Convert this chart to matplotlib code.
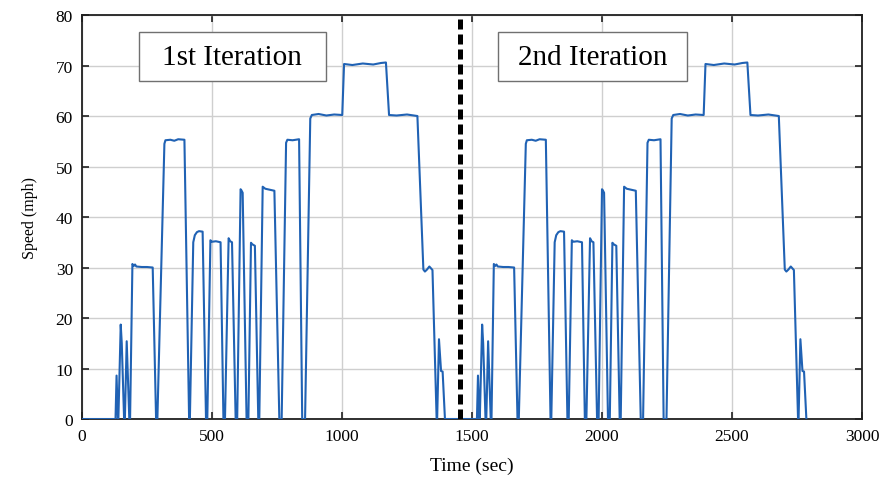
import matplotlib.pyplot as plt
from matplotlib.patches import Rectangle
import numpy as np

plt.rcParams['font.family'] = ['Liberation Serif', 'DejaVu Serif']

# one drive cycle (time in sec, speed in mph), idle at the start
cycle_t = [127, 129, 133, 138, 140, 149, 153, 162, 165, 172, 182, 185,
           194, 199, 204, 209, 230, 250, 272, 285, 290, 317, 321, 340,
           355, 370, 394, 412, 415, 428, 434, 442, 450, 464, 477, 482,
           494, 500, 515, 533, 544, 550, 564, 570, 577, 591, 597, 610,
           613, 618, 633, 640, 650, 655, 665, 678, 682, 695, 705, 740,
           759, 768, 785, 790, 810, 835, 847, 858, 878, 884, 910, 940,
           970, 1001, 1008, 1040, 1080, 1120, 1150, 1169, 1181, 1210,
           1250, 1290, 1313, 1319, 1327, 1336, 1348, 1364, 1366, 1373,
           1381, 1387, 1396]
cycle_v = [0, 0, 8.6, 0, 0, 18.7, 15.0, 0, 0, 15.4, 0, 0,
           30.7, 30.3, 30.6, 30.2, 30.1, 30.1, 30.0, 0, 0, 54.5, 55.2, 55.3,
           55.1, 55.4, 55.3, 0, 0, 35.0, 36.4, 37.0, 37.2, 37.1, 0, 0,
           35.4, 35.1, 35.2, 35.0, 0, 0, 35.8, 35.2, 35.0, 0, 0, 45.5,
           45.3, 44.8, 0, 0, 34.9, 34.6, 34.3, 0, 0, 46.0, 45.6, 45.2,
           0, 0, 54.7, 55.3, 55.2, 55.4, 0, 0, 59.5, 60.2, 60.4, 60.1,
           60.3, 60.2, 70.3, 70.1, 70.4, 70.2, 70.5, 70.6, 60.2, 60.1,
           60.3, 60.0, 29.6, 29.2, 29.6, 30.2, 29.5, 0, 0, 15.8,
           9.5, 9.4, 0]
repeat_shift = 1390      # second run of the same cycle
split_time = 1454        # boundary between the two runs

labels = ['1st Iteration', '2nd Iteration']
label_x = [(219, 938), (1600, 2327)]
label_y = (66.9, 76.6)

t = np.concatenate([[0], cycle_t, np.array(cycle_t) + repeat_shift])
v = np.concatenate([[0], cycle_v, cycle_v])

fig = plt.figure(figsize=(8.93, 4.81), dpi=100)
ax = fig.add_axes([0.0918, 0.1268, 0.8735, 0.8399])

ax.plot(t, v, color='#2062b4', lw=1.5, zorder=3)
ax.axvline(split_time, color='black', lw=3.6, dashes=(2.0, 1.0), zorder=4)

for lab, (x0, x1) in zip(labels, label_x):
    ax.add_patch(Rectangle((x0, label_y[0]), x1 - x0, label_y[1] - label_y[0],
                           facecolor='white', edgecolor='#707070', lw=1.0, zorder=5))
    ax.text((x0 + x1) / 2, sum(label_y) / 2, lab, ha='center', va='center',
            fontsize=21, zorder=6)

ax.set_xlim(0, 3000)
ax.set_ylim(0, 80)
ax.set_xticks(np.arange(0, 3001, 500))
ax.set_yticks(np.arange(0, 81, 10))
ax.grid(True, color='#cfcfcf', lw=1.0)
ax.set_axisbelow(True)
ax.tick_params(direction='in', length=5, width=1.2, top=True, right=True,
               labelsize=12.5, pad=6.5, colors='#202020')
ax.tick_params(axis='x', labelcolor='black')
ax.tick_params(axis='y', labelcolor='black')
for s in ax.spines.values():
    s.set_linewidth(1.3)
    s.set_color('#202020')

ax.set_xlabel('Time (sec)', fontsize=14, labelpad=9)
ax.set_ylabel('Speed (mph)', fontsize=11.5, labelpad=13)

fig.savefig('out.png', dpi=100)
